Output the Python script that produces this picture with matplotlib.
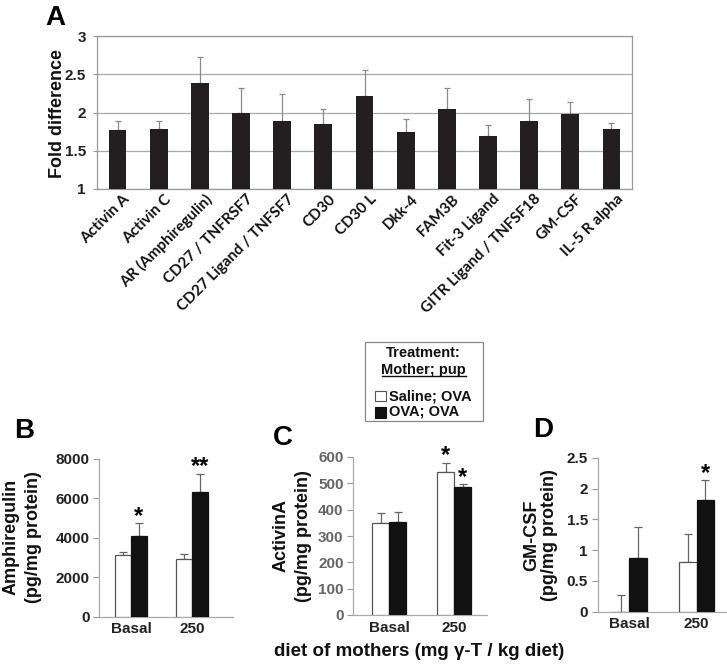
import matplotlib
matplotlib.use("Agg")
import matplotlib.pyplot as plt
from matplotlib.patches import Rectangle
from matplotlib.lines import Line2D
from matplotlib.transforms import ScaledTranslation
import numpy as np

# ---------------- data ----------------
A_categories = ["Activin A", "Activin C", "AR (Amphiregulin)", "CD27 / TNFRSF7",
                "CD27 Ligand / TNFSF7", "CD30", "CD30 L", "Dkk-4", "FAM3B",
                "Fit-3 Ligand", "GITR Ligand / TNFSF18", "GM-CSF", "IL-5 R alpha"]
A_values = [1.77, 1.78, 2.38, 2.00, 1.89, 1.85, 2.22, 1.75, 2.05, 1.69, 1.89, 1.98, 1.79]
A_errors = [0.12, 0.11, 0.35, 0.32, 0.35, 0.20, 0.34, 0.16, 0.27, 0.15, 0.29, 0.16, 0.07]
A_yticks = [1, 1.5, 2, 2.5, 3]

groups = ["Basal", "250"]

B_saline = [3130, 2940]
B_saline_err = [170, 250]
B_ova = [4090, 6330]
B_ova_err = [640, 930]
B_saline_star = ["", ""]
B_ova_star = ["*", "**"]
B_yticks = [0, 2000, 4000, 6000, 8000]

C_saline = [348, 544]
C_saline_err = [40, 34]
C_ova = [354, 487]
C_ova_err = [38, 9]
C_saline_star = ["", "*"]
C_ova_star = ["", "*"]
C_yticks = [0, 100, 200, 300, 400, 500, 600]

D_saline = [0, 0.81]
D_saline_err = [0.27, 0.45]
D_ova = [0.87, 1.81]
D_ova_err = [0.51, 0.32]
D_saline_star = ["", ""]
D_ova_star = ["", "*"]
D_yticks = [0, 0.5, 1, 1.5, 2, 2.5]
D_yticklabels = ["0", "0.5", "1", "1.5", "2", "2.5"]

# ---------------- layout helpers ----------------
W, H = 727, 664
fig = plt.figure(figsize=(W / 100, H / 100), dpi=100)
ARIAL = "Liberation Sans"


def fx(x):
    return x / W


def fy(y):
    return 1 - y / H


def axes_px(left, right, top, bottom):
    return fig.add_axes([fx(left), fy(bottom), (right - left) / W, (bottom - top) / H])


# ---------------- panel A ----------------
axA = axes_px(97, 632, 36, 189)
xA = np.arange(len(A_categories))
axA.bar(xA, A_values, width=0.43, color="#231f20", zorder=3)
axA.errorbar(xA, A_values, yerr=[np.zeros(len(A_errors)), A_errors], fmt="none",
             ecolor="#8a8a8a", elinewidth=0.9, capsize=2.5, capthick=0.9, zorder=2)
axA.set_xlim(-0.5, len(A_categories) - 0.5)
axA.set_ylim(1, 3)
axA.set_yticks(A_yticks)
axA.set_yticklabels([f"{v:g}" for v in A_yticks], fontsize=11, fontweight="bold",
                    family=ARIAL, color="#222222")
axA.yaxis.grid(True, color="#aaaaaa", linewidth=0.9, zorder=0)
for s in axA.spines.values():
    s.set_color("#999999")
    s.set_linewidth(0.9)
axA.tick_params(axis="y", length=3, color="#999999", pad=5)
axA.tick_params(axis="x", length=0, pad=0)
axA.set_xticks(xA)
axA.set_xticklabels(A_categories, rotation=45, ha="right", va="top",
                    rotation_mode="anchor", fontsize=11, fontweight="bold",
                    family="Lato", color="#111111")
shift = ScaledTranslation(5 / 100, -3 / 100, fig.dpi_scale_trans)
for lab in axA.get_xticklabels():
    lab.set_transform(lab.get_transform() + shift)
fig.text(fx(57), fy(113), "Fold difference", rotation=90, ha="center", va="center",
         fontsize=13, fontweight="bold", family=ARIAL, color="#111111")
fig.text(fx(45), fy(25), "A", ha="left", va="baseline", fontsize=20,
         fontweight="bold", family=ARIAL)


# ---------------- panels B, C, D ----------------
def small_panel(box, xlim, sal, sal_err, ova, ova_err, sal_star, ova_star,
                yticks, yticklabels, tickcolor, ylim):
    ax = axes_px(*box)
    x = np.arange(len(groups))
    w = 0.26
    ax.bar(x - w / 2, sal, width=w, color="white", edgecolor="#555555",
           linewidth=0.9, zorder=3)
    ax.bar(x + w / 2, ova, width=w, color="#111111", edgecolor="#111111",
           linewidth=0.9, zorder=3)
    ax.errorbar(x - w / 2, sal, yerr=[np.zeros(len(sal)), sal_err], fmt="none",
                ecolor="#666666", elinewidth=0.9, capsize=3.2, capthick=0.9, zorder=2)
    ax.errorbar(x + w / 2, ova, yerr=[np.zeros(len(ova)), ova_err], fmt="none",
                ecolor="#666666", elinewidth=0.9, capsize=3.2, capthick=0.9, zorder=2)
    for xi, v, e, s in zip(x - w / 2, sal, sal_err, sal_star):
        if s:
            ax.annotate(s, (xi, v + e), xytext=(0, -3), textcoords="offset points",
                        ha="center", va="bottom", fontsize=17, fontweight="bold",
                        family=ARIAL)
    for xi, v, e, s in zip(x + w / 2, ova, ova_err, ova_star):
        if s:
            ax.annotate(s, (xi, v + e), xytext=(0, -3), textcoords="offset points",
                        ha="center", va="bottom", fontsize=17, fontweight="bold",
                        family=ARIAL)
    ax.set_xlim(*xlim)
    ax.set_ylim(*ylim)
    ax.set_xticks(x)
    ax.set_xticklabels(groups, fontsize=11, fontweight="bold", family=ARIAL,
                       color="#222222")
    ax.set_yticks(yticks)
    ax.set_yticklabels(yticklabels, fontsize=11, fontweight="bold", family=ARIAL,
                       color=tickcolor)
    ax.tick_params(axis="x", length=0, pad=4)
    ax.tick_params(axis="y", length=4, color="#999999", pad=3)
    for side in ["top", "right"]:
        ax.spines[side].set_visible(False)
    for side in ["left", "bottom"]:
        ax.spines[side].set_color("#aaaaaa")
        ax.spines[side].set_linewidth(0.9)
    ax.patch.set_alpha(0)
    return ax


axB = small_panel((99.3, 233, 459, 616.7), (-0.52, 1.67), B_saline, B_saline_err,
                  B_ova, B_ova_err, B_saline_star, B_ova_star, B_yticks,
                  [str(v) for v in B_yticks], "#222222", (0, 8000))
axC = small_panel((353.3, 487, 457, 615), (-0.547, 1.50), C_saline, C_saline_err,
                  C_ova, C_ova_err, C_saline_star, C_ova_star, C_yticks,
                  [str(v) for v in C_yticks], "#666666", (0, 600))
axD = small_panel((597.7, 727, 457.7, 611.7), (-0.469, 1.45), D_saline, D_saline_err,
                  D_ova, D_ova_err, D_saline_star, D_ova_star, D_yticks,
                  D_yticklabels, "#222222", (0, 2.5))

# y labels
ylab_kw = dict(rotation=90, ha="center", va="center", fontsize=13,
               fontweight="bold", family=ARIAL, color="#111111")
fig.text(fx(11), fy(537), "Amphiregulin", **ylab_kw)
fig.text(fx(34), fy(537), "(pg/mg protein)", **ylab_kw)
fig.text(fx(281), fy(536), "ActivinA", **ylab_kw)
fig.text(fx(303.5), fy(536), "(pg/mg protein)", **ylab_kw)
fig.text(fx(531.5), fy(535), "GM-CSF", **ylab_kw)
fig.text(fx(549), fy(535), "(pg/mg protein)", **ylab_kw)

# panel letters
for lx, ly, lab in [(14, 438, "B"), (273, 445, "C"), (533, 437, "D")]:
    fig.text(fx(lx), fy(ly), lab, ha="left", va="baseline", fontsize=20,
             fontweight="bold", family=ARIAL)

# shared x label
fig.text(fx(418.7), fy(651), "diet of mothers (mg \u03b3-T / kg diet)", ha="center",
         va="center", fontsize=13.5, fontweight="bold", family=ARIAL,
         color="#111111")

# ---------------- legend box ----------------
fig.patches.append(Rectangle((fx(365), fy(421)), (483.3 - 365) / W,
                             (421 - 342) / H, transform=fig.transFigure,
                             facecolor="white", edgecolor="#888888", linewidth=0.9))
leg_kw = dict(fontsize=10.5, fontweight="bold", family=ARIAL, color="#111111")
fig.text(fx(423), fy(353), "Treatment:", ha="center", va="center", **leg_kw)
fig.text(fx(423.8), fy(369.7), "Mother; pup", ha="center", va="center", **leg_kw)
fig.lines.append(Line2D([fx(381.7), fx(466)], [fy(376), fy(376)],
                        transform=fig.transFigure, color="#111111", linewidth=1.0))
fig.patches.append(Rectangle((fx(375), fy(401.3)), 10.5 / W, 10 / H,
                             transform=fig.transFigure, facecolor="white",
                             edgecolor="#555555", linewidth=0.8))
fig.text(fx(389.5), fy(396.3), "Saline; OVA", ha="left", va="center", **leg_kw)
fig.patches.append(Rectangle((fx(375), fy(418)), 11 / W, 11.5 / H,
                             transform=fig.transFigure, facecolor="#111111",
                             edgecolor="#111111", linewidth=0.8))
fig.text(fx(389.5), fy(412), "OVA; OVA", ha="left", va="center", **leg_kw)

fig.savefig("out.png", dpi=100)
